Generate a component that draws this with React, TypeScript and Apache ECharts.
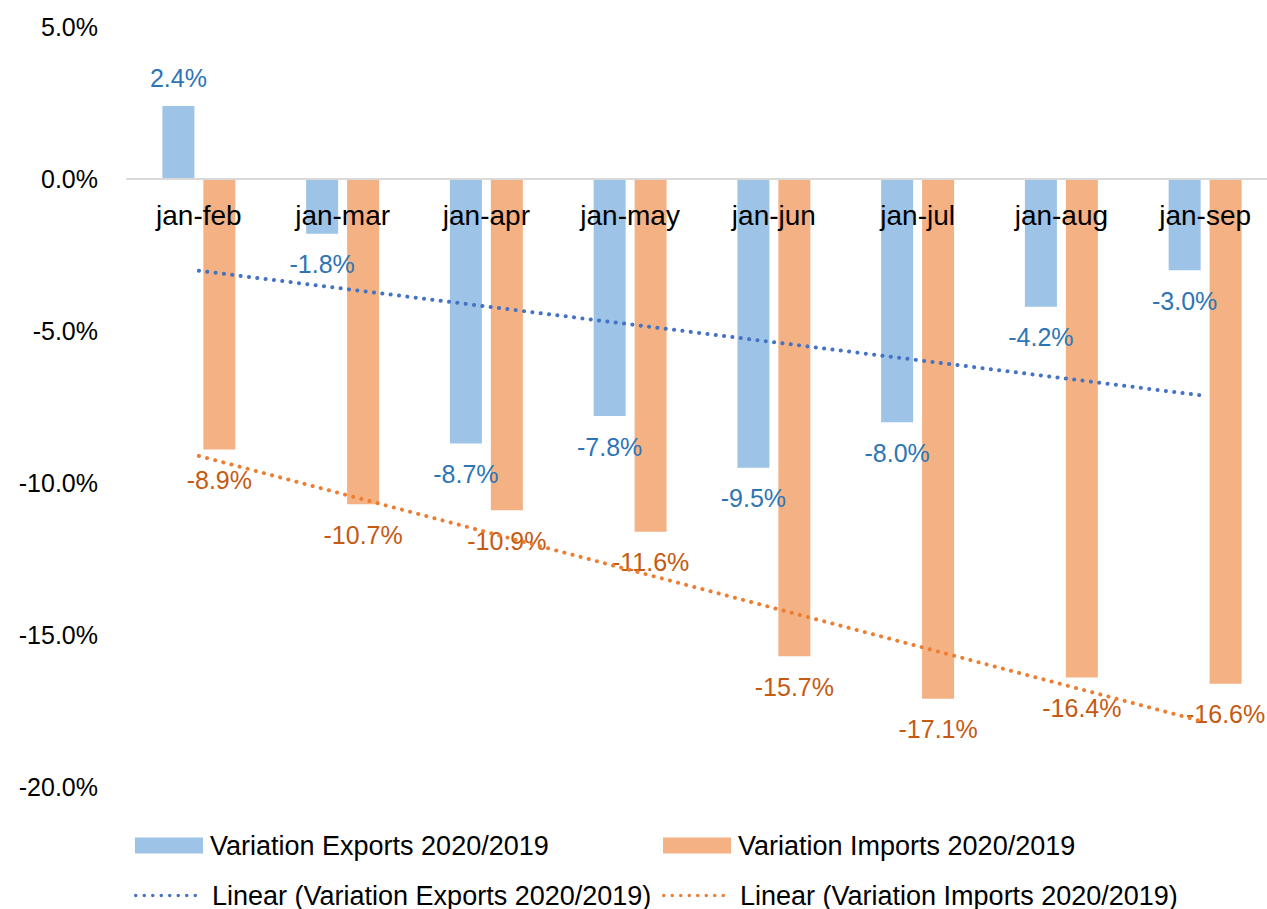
import React, { useEffect, useRef } from "react";
import * as echarts from "echarts";

const categories = ["jan-feb", "jan-mar", "jan-apr", "jan-may", "jan-jun", "jan-jul", "jan-aug", "jan-sep"];
const exportsVar = [2.4, -1.8, -8.7, -7.8, -9.5, -8.0, -4.2, -3.0];
const importsVar = [-8.9, -10.7, -10.9, -11.6, -15.7, -17.1, -16.4, -16.6];
const seriesNames = [
  "Variation Exports 2020/2019",
  "Variation Imports 2020/2019",
  "Linear (Variation Exports 2020/2019)",
  "Linear (Variation Imports 2020/2019)",
];
const yMin = -20;
const yMax = 5;
const yInterval = 5;

function linearTrend(values: number[]): number[] {
  const n = values.length;
  const xs = values.map((_, i) => i + 1);
  const mx = xs.reduce((a, b) => a + b, 0) / n;
  const my = values.reduce((a, b) => a + b, 0) / n;
  let sxy = 0;
  let sxx = 0;
  for (let i = 0; i < n; i++) {
    sxy += (xs[i] - mx) * (values[i] - my);
    sxx += (xs[i] - mx) * (xs[i] - mx);
  }
  const slope = sxy / sxx;
  return xs.map((x) => my + slope * (x - mx));
}

// dotted legend icon: 8 round dots in a 63 x 3.5 box
function dotsPath(): string {
  const r = 1.75;
  const step = 8.5;
  let d = "path://";
  for (let k = 0; k < 8; k++) {
    const cx = r + k * step;
    d += `M${cx - r},${r}a${r},${r} 0 1,0 ${2 * r},0a${r},${r} 0 1,0 ${-2 * r},0Z`;
  }
  return d;
}

const FONT = "'Liberation Sans', Arial, sans-serif";

export default function App() {
  const ref = useRef<HTMLDivElement>(null);
  useEffect(() => {
    if (!ref.current) return;
    const chart = echarts.init(ref.current, undefined, { renderer: "svg" });
    const barData = (vals: number[]) =>
      vals.map((v) => ({
        value: v,
        label: { position: v >= 0 ? "top" : "bottom", distance: v >= 0 ? 16 : 18 },
      }));
    const barLegend = {
      itemWidth: 68,
      itemHeight: 16,
      padding: 0,
      textStyle: { fontSize: 27, color: "#000", fontFamily: FONT, padding: [0, 0, 0, 2] },
      selectedMode: false,
    };
    const lineLegend = {
      itemWidth: 63,
      itemHeight: 3.5,
      padding: 0,
      textStyle: { fontSize: 27, color: "#000", fontFamily: FONT, padding: [0, 0, 0, 10] },
      selectedMode: false,
    };
    const dots = dotsPath();
    chart.setOption({
      animation: false,
      backgroundColor: "#fff",
      textStyle: { fontFamily: FONT },
      grid: { left: 127, right: -10, top: 27, bottom: 122, containLabel: false, outerBoundsMode: "none" },
      legend: [
        { ...barLegend, data: [{ name: seriesNames[0], icon: "rect" }], left: 135, top: 832 },
        { ...barLegend, data: [{ name: seriesNames[1], icon: "rect" }], left: 663, top: 832 },
        { ...lineLegend, data: [{ name: seriesNames[2], icon: dots, itemStyle: { color: "#4472C4" } }], left: 134, top: 882 },
        { ...lineLegend, data: [{ name: seriesNames[3], icon: dots, itemStyle: { color: "#ED7D31" } }], left: 662, top: 882 },
      ],
      xAxis: {
        type: "category",
        data: categories,
        z: 5,
        axisLine: { onZero: true, lineStyle: { color: "#D9D9D9", width: 2 } },
        axisTick: { show: false },
        axisLabel: { color: "#000", fontSize: 28, margin: -586, fontFamily: FONT },
      },
      yAxis: {
        type: "value",
        min: yMin,
        max: yMax,
        interval: yInterval,
        axisLine: { show: false },
        axisTick: { show: false },
        splitLine: { show: false },
        axisLabel: {
          color: "#000",
          fontSize: 25,
          margin: 29,
          fontFamily: FONT,
          formatter: (v: number) => v.toFixed(1) + "%",
        },
      },
      series: [
        {
          name: seriesNames[0],
          type: "bar",
          data: barData(exportsVar),
          barWidth: 32,
          barGap: "28%",
          itemStyle: { color: "#9DC3E6" },
          label: {
            show: true,
            color: "#2E75B6",
            fontSize: 25,
            fontFamily: FONT,
            formatter: (p: any) => Number(p.value).toFixed(1) + "%",
          },
        },
        {
          name: seriesNames[1],
          type: "bar",
          data: barData(importsVar),
          barWidth: 32,
          barGap: "28%",
          itemStyle: { color: "#F4B183" },
          label: {
            show: true,
            color: "#C55A11",
            fontSize: 25,
            fontFamily: FONT,
            formatter: (p: any) => Number(p.value).toFixed(1) + "%",
          },
        },
        {
          name: seriesNames[2],
          type: "line",
          data: linearTrend(exportsVar),
          symbol: "none",
          z: 6,
          lineStyle: { color: "#4472C4", width: 4, type: [0.1, 8.3], cap: "round" },
          itemStyle: { color: "#4472C4" },
        },
        {
          name: seriesNames[3],
          type: "line",
          data: linearTrend(importsVar),
          symbol: "none",
          z: 6,
          lineStyle: { color: "#ED7D31", width: 4, type: [0.1, 8.3], cap: "round" },
          itemStyle: { color: "#ED7D31" },
        },
      ],
    });
    return () => chart.dispose();
  }, []);
  return (
    <div
      ref={ref}
      style={{ position: "absolute", left: 0, top: 0, width: 1267, height: 909, background: "#fff" }}
    />
  );
}
